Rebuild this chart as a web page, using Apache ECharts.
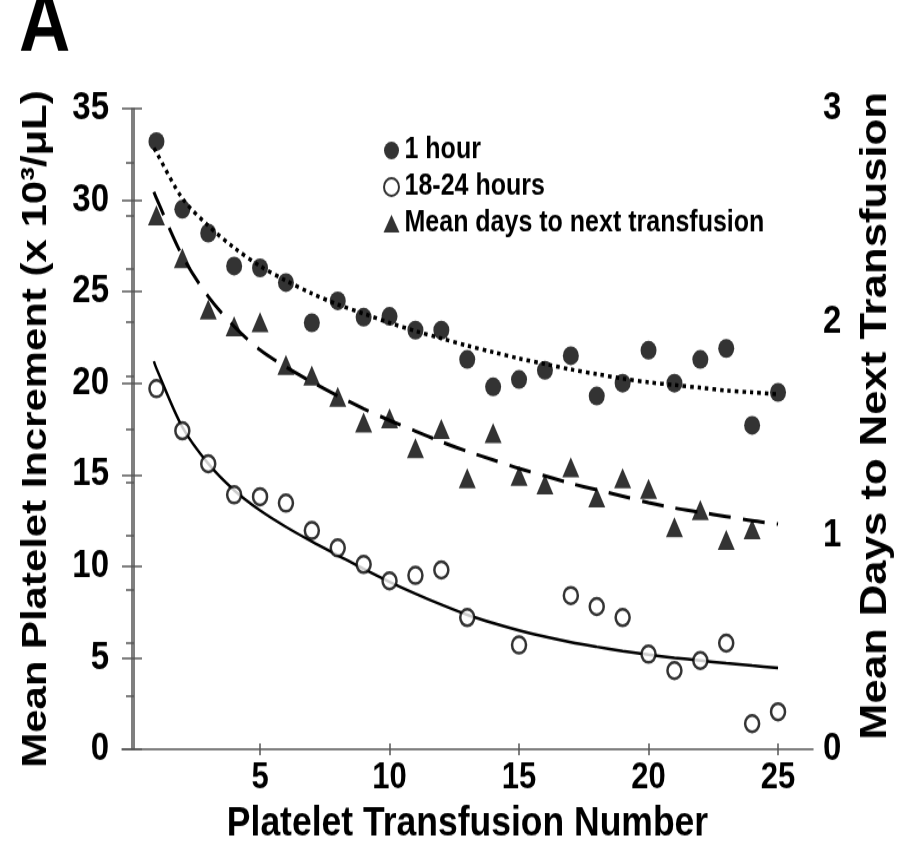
<!DOCTYPE html>
<html>
<head>
<meta charset="utf-8">
<script src="https://cdn.jsdelivr.net/npm/echarts@6/dist/echarts.min.js"></script>
<style>
  html, body { margin: 0; padding: 0; background: #fff; width: 910px; height: 852px; overflow: hidden; }
  /* the original figure is stretched vertically, so draw at 722px and stretch to 852px */
  #chart { width: 910px; height: 722px; transform: scaleY(1.18); transform-origin: 0 0; }
</style>
</head>
<body>
<div id="chart"></div>
<script>
//---------------------------Data---------------------------
//transfusion number
let transfusion = [1,2,3,4,5,6,7,8,9,10,11,12,13,14,15,16,17,18,19,20,21,22,23,24,25];

//mean increment 1 hour after (x 10^3/uL)
let oneHour = [33.2,29.5,28.2,26.4,26.3,25.5,23.3,24.5,23.6,23.65,22.9,22.9,21.3,19.8,20.2,20.7,21.5,19.3,20.0,21.8,20.0,21.3,21.9,17.7,19.5];

//mean increment 18-24 hours after
let lateHours = [19.7,17.4,15.6,13.9,13.8,13.45,11.95,11.0,10.1,9.2,9.5,9.8,7.2,null,5.7,null,8.4,7.8,7.2,5.2,4.3,4.85,5.8,1.4,2.05];

//mean days to next transfusion (right axis)
let daysNext = [2.50,2.30,2.06,1.98,2.00,1.80,1.75,1.65,1.53,1.55,1.41,1.50,1.27,1.48,1.28,1.24,1.32,1.18,1.27,1.22,1.04,1.12,0.98,1.03,null];

//fitted curves
let fitX = [0.9,1,2,3,4,5,6,7,8,9,10,11,12,13,14,15,16,17,18,19,20,21,22,23,24,25];
let fitOneHour = [32.85,32.6,30.1,28.6,27.4,26.4,25.6,24.9,24.3,23.8,23.3,22.85,22.45,22.05,21.7,21.35,21.05,20.75,20.5,20.25,20.05,19.9,19.75,19.6,19.5,19.4];
let fitLate = [21.2,20.8,17.6,15.6,14.15,13.05,12.15,11.35,10.6,9.85,9.15,8.5,7.9,7.35,6.9,6.5,6.15,5.85,5.6,5.37,5.17,5.0,4.85,4.7,4.57,4.45];
let fitDays = [2.61,2.58,2.31,2.12,1.98,1.87,1.79,1.72,1.655,1.595,1.54,1.49,1.44,1.395,1.355,1.315,1.28,1.245,1.215,1.185,1.155,1.13,1.11,1.09,1.07,1.055];

//tick labels
let xTicks = [5,10,15,20,25];

//---------------------------UI---------------------------
let chart = echarts.init(document.getElementById('chart'));

let font = "'Liberation Sans', Arial, sans-serif";
let axisGray = '#555';

function pairs(xs, ys) {
    let out = [];
    for (let i = 0; i < xs.length; i++) {
        if (ys[i] == null) continue;
        out.push([xs[i], ys[i]]);
    }
    return out;
}

let option = {
    backgroundColor: '#fff',
    animation: false,
    graphic: [{
        type: 'text',
        left: 19,
        top: -12,
        style: { text: 'A', font: 'bold 71px ' + font, fill: '#000' }
    }],
    legend: {
        data: ['1 hour', '18-24 hours', 'Mean days to next transfusion'],
        orient: 'vertical',
        left: 378,
        top: 110,
        itemWidth: 16,
        itemHeight: 15,
        itemGap: 6,
        textStyle: { fontFamily: font, fontWeight: 'bold', fontSize: 25, color: '#000' }
    },
    grid: { left: 122, right: 97, top: 92, bottom: 87, containLabel: false },
    xAxis: [{
        type: 'value',
        min: -0.33,
        max: 26.35,
        name: 'Platelet Transfusion Number',
        nameLocation: 'middle',
        nameGap: 33,
        nameTextStyle: { fontFamily: font, fontWeight: 'bold', fontSize: 35.5, color: '#000' },
        splitLine: { show: false },
        axisLine: { lineStyle: { color: axisGray, width: 1.5 } },
        axisTick: { length: 5, customValues: xTicks, lineStyle: { color: axisGray, width: 1.5 } },
        axisLabel: { customValues: xTicks, margin: 9, fontFamily: font, fontWeight: 'bold', fontSize: 31, color: '#000' }
    }, {
        //inner half of the crossing ticks
        type: 'value',
        position: 'bottom',
        min: -0.33,
        max: 26.35,
        splitLine: { show: false },
        axisLine: { show: false },
        axisTick: { inside: true, length: 5, customValues: xTicks, lineStyle: { color: axisGray, width: 1.5 } },
        axisLabel: { show: false }
    }],
    yAxis: [{
        type: 'value',
        position: 'left',
        offset: -10,
        min: 0,
        max: 35,
        interval: 5,
        name: 'Mean Platelet Increment (x 10³/μL)',
        nameLocation: 'middle',
        nameGap: 78,
        nameTextStyle: { fontFamily: font, fontWeight: 'bold', fontSize: 35.5, color: '#000' },
        splitLine: { show: false },
        axisLine: { show: true, lineStyle: { color: axisGray, width: 1.5 } },
        axisTick: { length: 10, lineStyle: { color: axisGray, width: 1.5 } },
        axisLabel: { margin: 23, fontFamily: font, fontWeight: 'bold', fontSize: 33, color: '#000' }
    }, {
        type: 'value',
        position: 'right',
        offset: -12,
        min: 0,
        max: 3,
        interval: 0.25,
        name: 'Mean Days to Next Transfusion',
        nameLocation: 'middle',
        nameGap: 56,
        nameRotate: 90,
        nameTextStyle: { fontFamily: font, fontWeight: 'bold', fontSize: 37, color: '#000', padding: [0, 0, 0, 22] },
        splitLine: { show: false },
        axisLine: { show: true, lineStyle: { color: axisGray, width: 1.5 } },
        axisTick: { inside: true, length: 8, lineStyle: { color: axisGray, width: 1.5 } },
        axisLabel: {
            margin: 22, fontFamily: font, fontWeight: 'bold', fontSize: 33, color: '#000',
            formatter: function (v) { return Number.isInteger(v) ? String(v) : ''; }
        }
    }, {
        //inner half of the crossing ticks on the left axis
        type: 'value',
        position: 'left',
        offset: -10,
        min: 0,
        max: 35,
        interval: 5,
        splitLine: { show: false },
        axisLine: { show: false },
        axisTick: { inside: true, length: 10, lineStyle: { color: axisGray, width: 1.5 } },
        axisLabel: { show: false }
    }],
    series: [{
        name: 'fit1h',
        type: 'line',
        data: pairs(fitX, fitOneHour),
        smooth: 0.3,
        showSymbol: false,
        silent: true,
        lineStyle: { color: '#000', width: 3.5, type: [3.5, 4] },
        z: 1
    }, {
        name: 'fitLate',
        type: 'line',
        data: pairs(fitX, fitLate),
        smooth: 0.3,
        showSymbol: false,
        silent: true,
        lineStyle: { color: '#000', width: 2.5 },
        z: 1
    }, {
        name: 'fitDays',
        type: 'line',
        yAxisIndex: 1,
        data: pairs(fitX, fitDays),
        smooth: 0.3,
        showSymbol: false,
        silent: true,
        lineStyle: { color: '#000', width: 3, type: [22, 12] },
        z: 1
    }, {
        name: '1 hour',
        type: 'scatter',
        data: pairs(transfusion, oneHour),
        symbol: 'circle',
        symbolSize: 16,
        itemStyle: { color: '#000' },
        z: 3
    }, {
        name: '18-24 hours',
        type: 'scatter',
        data: pairs(transfusion, lateHours),
        symbol: 'circle',
        symbolSize: 14,
        itemStyle: { color: '#fff', borderColor: '#000', borderWidth: 2.5 },
        z: 3
    }, {
        name: 'Mean days to next transfusion',
        type: 'scatter',
        yAxisIndex: 1,
        data: pairs(transfusion, daysNext),
        symbol: 'triangle',
        symbolSize: 17,
        itemStyle: { color: '#000' },
        z: 3
    }]
};

chart.setOption(option);
</script>
</body>
</html>
